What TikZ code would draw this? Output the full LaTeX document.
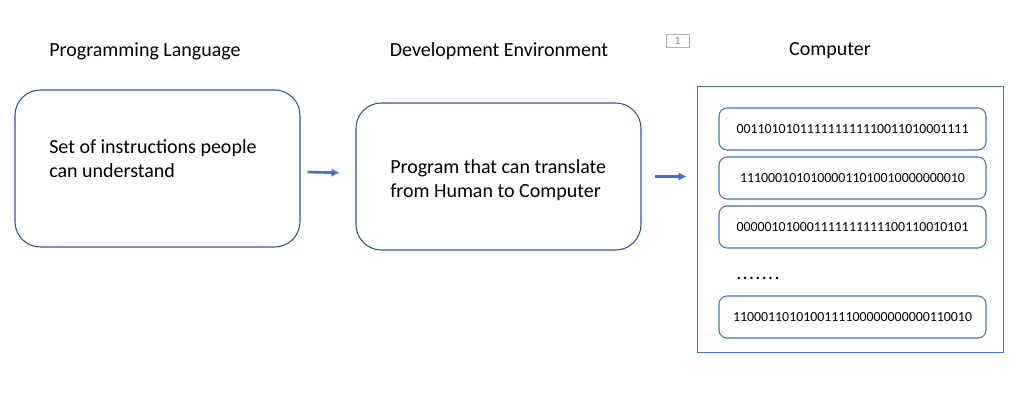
\documentclass[tikz,border=0pt]{standalone}
\usepackage{fontspec}
\setmainfont{Carlito}
\usetikzlibrary{arrows.meta}
\definecolor{boxblue}{HTML}{2F5597}
\definecolor{arrblue}{HTML}{4472C4}

\begin{document}
\begin{tikzpicture}[x=0.75pt,y=-0.75pt]
 \tikzstyle{titel}=[font=\fontsize{15}{17}\selectfont]
 \tikzstyle{texte}=[font=\fontsize{15}{18}\selectfont,align=left,anchor=west,inner sep=0]
 \tikzstyle{gbox}=[draw=boxblue,line width=0.8pt,rounded corners=19pt,inner sep=0]
 \tikzstyle{bbox}=[draw=arrblue,line width=0.8pt,rounded corners=6pt,minimum width=200.25pt,minimum height=31.5pt,font=\fontsize{10.4}{12}\selectfont]
 \tikzstyle{estun}=[-{Latex[length=6pt,width=6.5pt]},draw=arrblue,line width=2pt]
 \useasboundingbox (0,0) rectangle (1026,403);
 \node[titel] (L1) at (145,51) {Programming Language};
 \node[titel] (L2) at (499,51) {Development Environment};
 \node[titel] (L3) at (830,51) {Computer};
 \node[draw=gray!60,text=gray,font=\fontsize{8.5}{9}\selectfont,minimum width=17.25pt,minimum height=9.75pt,inner sep=0] (N1) at (677.5,41) {1};
 \node[gbox,minimum width=213.75pt,minimum height=117.75pt] (R1) at (157.5,168.5) {};
 \node[gbox,minimum width=213.75pt,minimum height=110.25pt] (R2) at (498.5,176.5) {};
 \node[texte] (T1) at (49,159) {Set of instructions people\\can understand};
 \node[texte] (T2) at (390,180) {Program that can translate\\from Human to Computer};
 \node[draw=arrblue,line width=0.6pt,minimum width=229.5pt,minimum height=199.5pt] (C) at (850,219) {};
 \node[bbox] (B1) at (852.5,129) {001101010111111111110011010001111};
 \node[bbox] (B2) at (852.5,178) {11100010101000011010010000000010};
 \node[bbox] (B3) at (852.5,227) {000001010001111111111100110010101};
 \node[bbox] (B4) at (852.5,317) {1100011010100111100000000000110010};
 \node[font=\fontsize{15}{17}\selectfont] (D) at (758,278) {.\kern1pt.\kern1pt.\kern1pt.\kern1pt.\kern1pt.\kern1pt.};
 \draw[estun,shorten <=5.25pt,shorten >=12pt] (R1) -- (R2);
 \draw[estun,shorten <=9.75pt,shorten >=7.5pt] (R2.east) -- (R2.east -| C.west);
\end{tikzpicture}
\end{document}
